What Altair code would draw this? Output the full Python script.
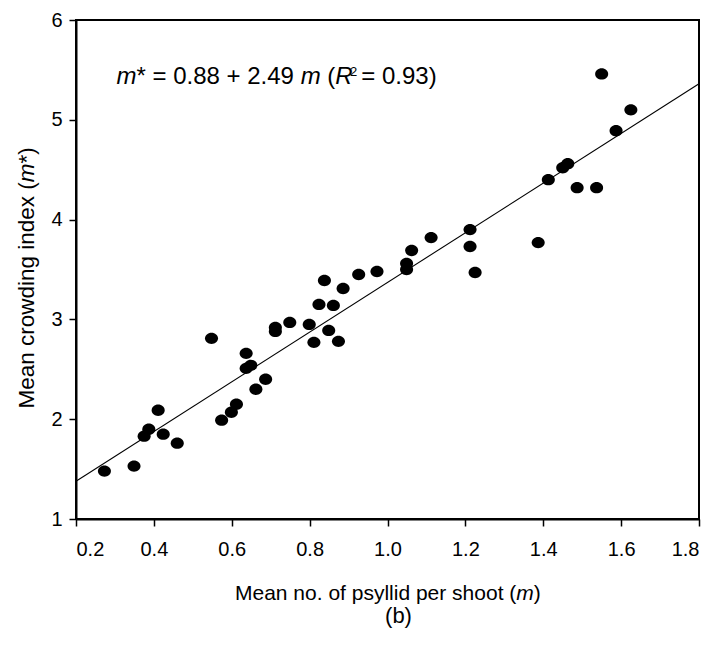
import altair as alt
import pandas as pd

# Data
m_vals = [0.273, 0.349, 0.375, 0.387, 0.411, 0.424, 0.460, 0.548, 0.574, 0.599,
          0.612, 0.637, 0.637, 0.649, 0.662, 0.687, 0.712, 0.712, 0.749, 0.799,
          0.811, 0.849, 0.874, 0.824, 0.861, 0.838, 0.886, 0.926, 0.973, 1.049,
          1.049, 1.062, 1.112, 1.212, 1.212, 1.225, 1.387, 1.413, 1.450, 1.463,
          1.487, 1.537, 1.550, 1.587, 1.625]
mstar_vals = [1.48, 1.53, 1.83, 1.90, 2.09, 1.85, 1.76, 2.81, 1.99, 2.07,
              2.15, 2.66, 2.51, 2.54, 2.30, 2.40, 2.92, 2.88, 2.97, 2.95,
              2.77, 2.89, 2.78, 3.15, 3.14, 3.39, 3.31, 3.45, 3.48, 3.56,
              3.50, 3.69, 3.82, 3.90, 3.73, 3.47, 3.77, 4.40, 4.52, 4.56,
              4.32, 4.32, 5.46, 4.89, 5.10]
intercept = 0.88
slope = 2.49
x_range = [0.2, 1.8]
x_ticks = [0.2, 0.4, 0.6, 0.8, 1.0, 1.2, 1.4, 1.6, 1.8]
y_ticks = [1, 2, 3, 4, 5, 6]

FONT = "Liberation Sans"

# Arial / Liberation Sans advance widths (per em) used to chain text pieces
ADV = {" ": .278, "*": .389, "=": .584, ".": .278, "+": .584, "(": .333, ")": .333,
       "m": .833, "R": .722, "M": .833, "e": .556, "a": .556, "n": .556, "c": .5,
       "r": .333, "o": .556, "w": .722, "d": .556, "i": .222, "g": .556, "x": .5,
       "f": .278, "p": .556, "s": .5, "y": .5, "l": .222, "h": .556, "t": .278}


def adv(s, size):
    return sum(ADV.get(ch, .556) for ch in s) * size


pts = pd.DataFrame({"m": m_vals, "mstar": mstar_vals})
fit = pd.DataFrame({"m": x_range, "mstar": [intercept + slope * v for v in x_range]})

xs = alt.Scale(domain=x_range, nice=False, zero=False)
ys = alt.Scale(domain=[1, 6], nice=False, zero=False)

x_enc = alt.X("m:Q", scale=xs, title=None,
              axis=alt.Axis(values=x_ticks, format=".1f"))
y_enc = alt.Y("mstar:Q", scale=ys, title=None,
              axis=alt.Axis(values=y_ticks, format="d"))

ellipse = "M -1 0 A 1 0.87 0 1 1 1 0 A 1 0.87 0 1 1 -1 0 Z"
points = alt.Chart(pts).mark_point(shape=ellipse, filled=True, size=170,
                                   color="black", opacity=1).encode(x=x_enc, y=y_enc)
line = alt.Chart(fit).mark_line(color="black", strokeWidth=1.1).encode(x=x_enc, y=y_enc)


def txt(s, x, y, size, style="normal", angle=0, align="left"):
    return alt.Chart(alt.Data(values=[{"t": s}])).mark_text(
        text=s, font=FONT, fontSize=size, fontStyle=style, angle=angle,
        align=align, baseline="alphabetic", color="black"
    ).encode(x=alt.value(x), y=alt.value(y))


labels = []

# equation: m* = 0.88 + 2.49 m (R² = 0.93)
# pieces: (text, style, space before it)
EQ = 24
ex, ey = 40.5, 64
for s, st, gap in [("m", "italic", 0), ("* = 0.88 + 2.49", "normal", 0),
                   ("m", "italic", 1), ("(", "normal", 1), ("R", "italic", 0)]:
    ex += gap * adv(" ", EQ)
    labels.append(txt(s, ex, ey, EQ, st))
    ex += adv(s, EQ)
labels.append(txt("2", ex - 2.5, ey - 8.5, 13))
ex += 2 + adv(" ", EQ)
labels.append(txt("= 0.93)", ex, ey, EQ))

# x title
XT = 21
tx, ty = 159, 580
for s, st in [("Mean no. of psyllid per shoot (", "normal"), ("m", "italic"), (")", "normal")]:
    labels.append(txt(s, tx, ty, XT, st))
    tx += adv(s, XT)
labels.append(txt("(b)", 322.5, 603, 22, align="center"))

# y title (rotated, reads bottom to top)
YT = 22.5
yy, yx = 388.5, -42
for s, st in [("Mean crowding index (", "normal"), ("m", "italic"), ("*)", "normal")]:
    labels.append(txt(s, yx, yy, YT, st, angle=270))
    yy -= adv(s, YT)

chart = alt.layer(line, points, *labels).properties(
    width=623, height=499,
    autosize=alt.AutoSizeParams(type="none"),
    padding={"left": 68, "top": 12, "right": 11, "bottom": 120},
).configure_view(
    stroke="black", strokeWidth=2
).configure_axis(
    grid=False, domainColor="black", domainWidth=2,
    tickColor="black", tickWidth=1.5, tickSize=7,
    labelFont=FONT, labelFontSize=20, labelColor="black",
).configure_axisX(labelPadding=13).configure_axisY(labelPadding=7)

chart.save("out.html", embed_options={"renderer": "svg", "actions": False})
